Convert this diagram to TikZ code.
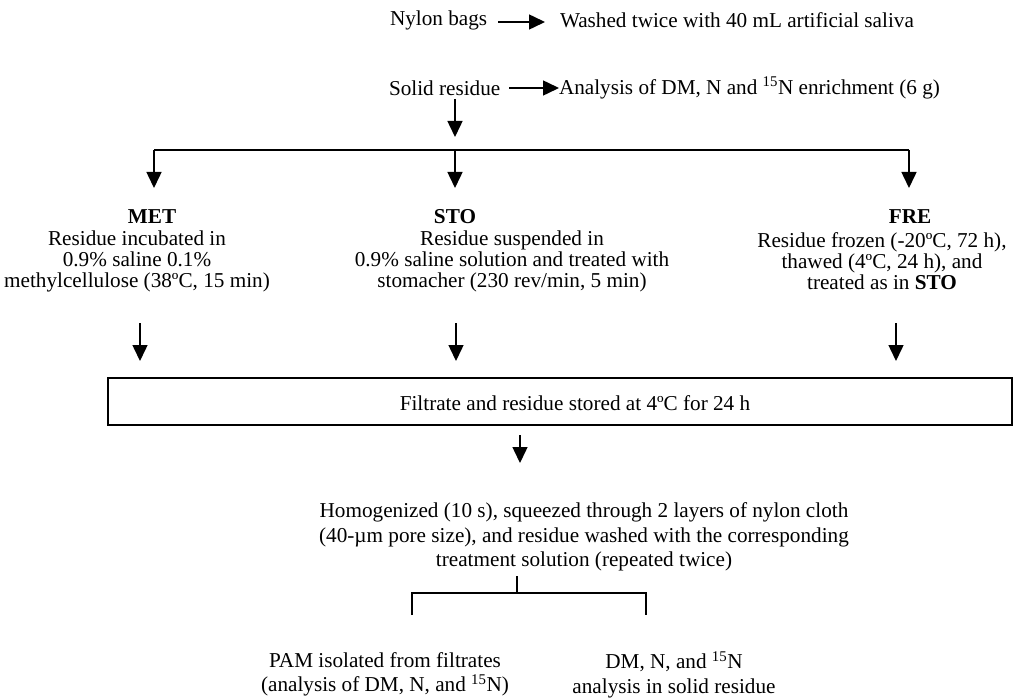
\documentclass[tikz,border=0pt]{standalone}
\usepackage{fontspec}
\setmainfont{Liberation Serif}
\usetikzlibrary{arrows.meta}
\begin{document}
\begin{tikzpicture}[x=1pt,y=-1pt,
  every node/.style={font=\fontsize{21.2}{24}\selectfont, inner sep=0pt, outer sep=0pt},
  arr/.style={-{Triangle[length=16pt 0,width=15pt 0]}, line width=1.5pt},
  ln/.style={line width=1.5pt},
  blk/.style={align=center, font=\fontsize{21.2}{21}\selectfont},
  blk2/.style={align=center, font=\fontsize{21.2}{24.5}\selectfont},
  hdr/.style={font=\fontsize{21.2}{24}\selectfont\bfseries}]
\useasboundingbox (0,0) rectangle (1026,698);
\fill[white] (0,0) rectangle (1026,698);

% top rows
\node[anchor=west] (nylon) at (390,20) {Nylon bags};
\node[anchor=west] (washed) at (560,20) {Washed twice with 40 mL artificial saliva};
\draw[arr] ([xshift=11pt,yshift=-2pt]nylon.east) -- ([xshift=-15pt,yshift=-2pt]washed.west);

\node[anchor=west] (solid) at (389,88) {Solid residue};
\node[anchor=west] (anal) at (559,88) {Analysis of DM, N and \textsuperscript{15}N enrichment (6 g)};
\draw[arr] ([xshift=9pt]solid.east) -- (anal.west);

\coordinate (sdown) at (455,99);
\coordinate (stip) at (455,137);
\draw[arr] (sdown) -- (stip);

% split line
\coordinate (hl) at (154,150);
\coordinate (hm) at (455,150);
\coordinate (hr) at (909,150);
\draw[ln] (hl) -- (hr);

\node[hdr] (met) at (152,217) {MET};
\node[hdr] (sto) at (455,217) {STO};
\node[hdr] (fre) at (910,217) {FRE};
\draw[arr] (hl) -- (hl |- 0,188);
\draw[arr] (hm) -- (hm |- 0,188);
\draw[arr] (hr) -- (hr |- 0,188);

\node[blk] (metT) at (137,261) {Residue incubated in\\0.9\% saline 0.1\%\\methylcellulose (38ºC, 15 min)};
\node[blk] (stoT) at (512,261) {Residue suspended in\\0.9\% saline solution and treated with\\stomacher (230 rev/min, 5 min)};
\node[blk] (freT) at (882,261) {Residue frozen (-20ºC, 72 h),\\thawed (4ºC, 24 h), and\\treated as in \textbf{STO}};

% box
\node[draw, line width=1.5pt, minimum width=904pt, minimum height=47pt] (box) at (560,401.5) {};
\node (filt) at (575,403) {Filtrate and residue stored at 4ºC for 24 h};
\coordinate (a1) at (140,323);
\coordinate (a2) at (456,323);
\coordinate (a3) at (896,323);
\draw[arr] (a1) -- (a1 |- 0,361);
\draw[arr] (a2) -- (a2 |- 0,361);
\draw[arr] (a3) -- (a3 |- 0,361);

\coordinate (bdown) at (520,435);
\draw[arr] (bdown) -- (520,463);

\node[blk2] (homo) at (584,537) {Homogenized (10 s), squeezed through 2 layers of nylon cloth\\(40-µm pore size), and residue washed with the corresponding\\treatment solution (repeated twice)};

% bracket
\coordinate (tk) at (517,576);
\coordinate (tm) at (517,593);
\coordinate (bl) at (412,593);
\coordinate (br) at (646,593);
\draw[ln] (tk) -- (tm);
\draw[ln] (bl |- 0,615) -- (bl) -- (br) -- (br |- 0,615);

\node[blk2] (pam) at (385,674.5) {PAM isolated from filtrates\\(analysis of DM, N, and \textsuperscript{15}N)};
\node[blk2] (dmn) at (674,674.5) {DM, N, and \textsuperscript{15}N\\analysis in solid residue};
\end{tikzpicture}
\end{document}
